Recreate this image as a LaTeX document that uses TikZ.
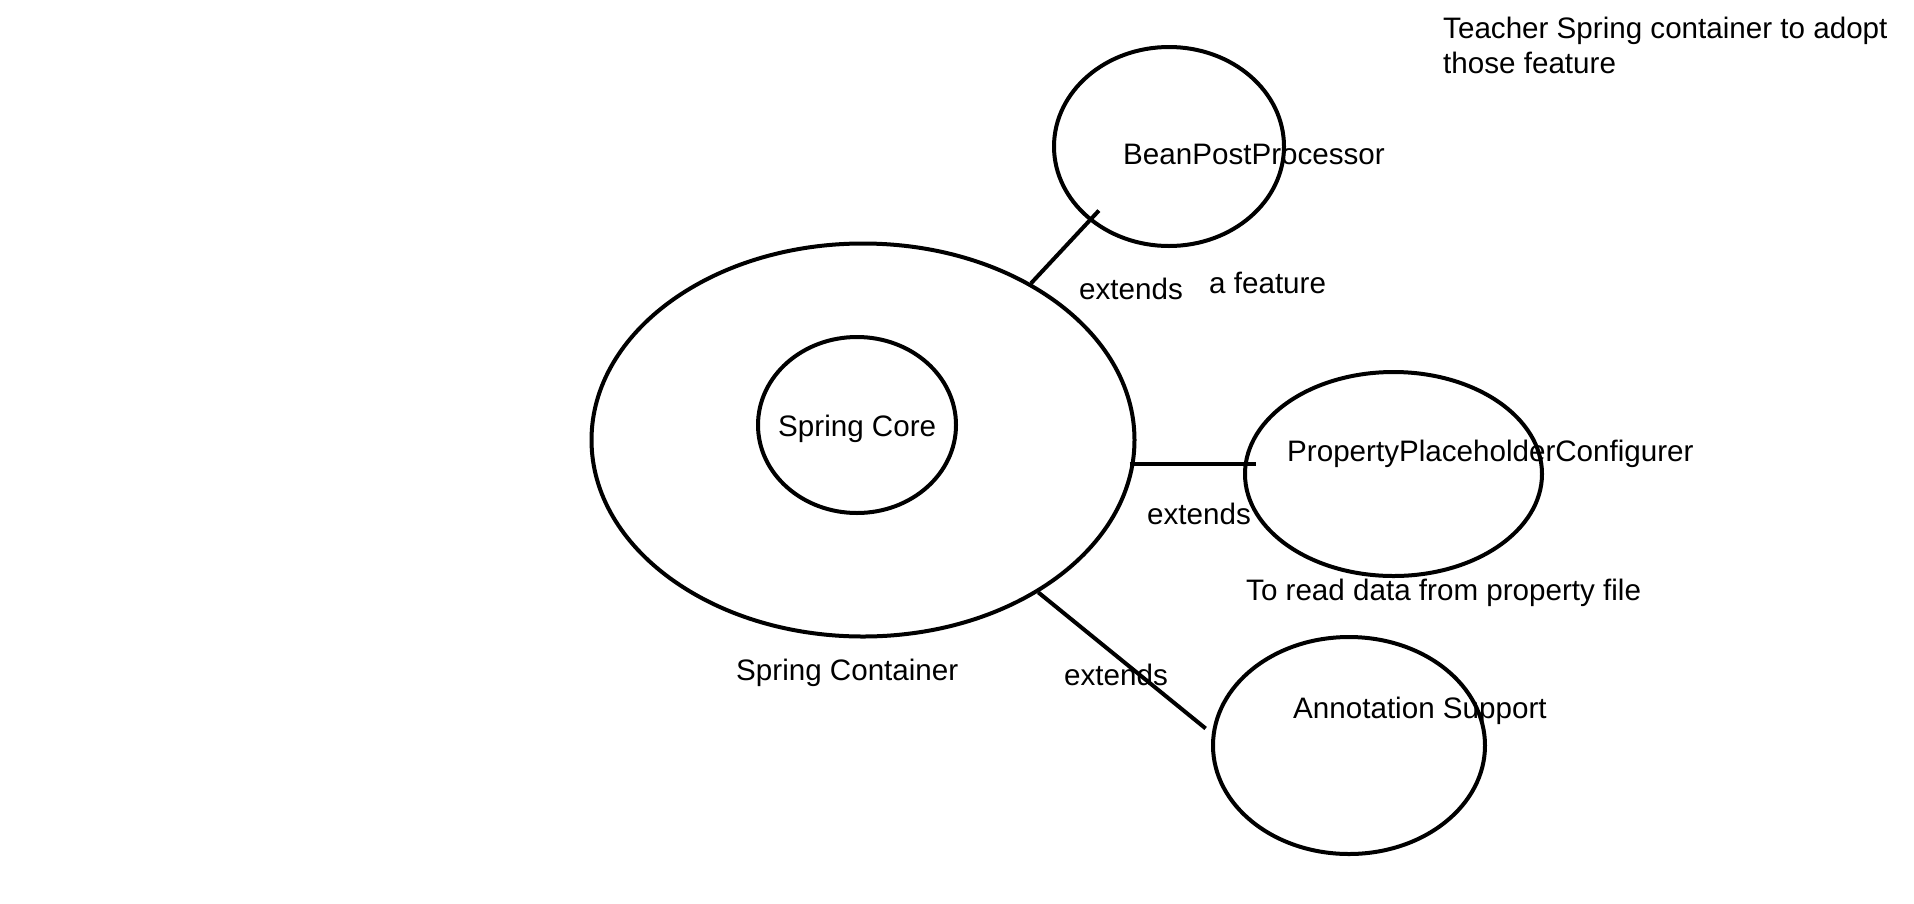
\documentclass[tikz,border=0pt]{standalone}
\usepackage{fontspec}
\setmainfont{Liberation Sans}
\usepackage{tikz}
\usetikzlibrary{shapes,positioning,calc}

\tikzset{
    bubble/.style={draw, ellipse, line width=4pt, inner sep=0pt},
    lbl/.style={anchor=base west, inner sep=0pt, font=\fontsize{29.6}{34.5}\selectfont},
    link/.style={line width=4pt}
}

\begin{document}
\begin{tikzpicture}[x=1pt, y=-1pt]
    \useasboundingbox (0,0) rectangle (1914,903);

    \node[bubble, minimum width=543pt, minimum height=393pt] (container) at (863, 440) {}; % outer
    \node[bubble, minimum width=198pt, minimum height=176pt] (core) at (857, 425) {}; % inner
    \node[bubble, minimum width=230pt, minimum height=199pt] (bpp) at (1169, 146.5) {};
    \node[bubble, minimum width=297pt, minimum height=204pt] (ppc) at (1393.5, 474) {};
    \node[bubble, minimum width=272pt, minimum height=217pt] (annot) at (1349, 745.5) {};

    \draw[link, shorten >=-14pt] (container.43.6) -- (bpp.223.6); % to BeanPostProcessor
    \draw[link, shorten <=-5pt, shorten >=-12.6pt] (container.-5.7) -- (ppc.177.3 |- container.-5.7); % to Configurer
    \draw[link, shorten >=8pt] (container.-41.7) -- (annot.175.8); % to Annotation

    \node[lbl] (coreText) at (778, 436.6) {Spring Core};
    \node[lbl] (containerText) at (736, 680) {Spring Container};
    \node[lbl] (bppText) at (1123, 164.5) {BeanPostProcessor};
    \node[lbl] (ppcText) at (1287, 461) {PropertyPlaceholderConfigurer};
    \node[lbl] (annotText) at (1293, 718) {Annotation Support};

    \node[lbl] (extA) at (1079, 299) {extends};
    \node[lbl] (extB) at (1147, 524) {extends};
    \node[lbl] (extC) at (1064, 685) {extends};

    \node[lbl] (feature) at (1209, 293) {a feature};
    \node[lbl] (readNote) at (1246, 600.5) {To read data from property file};
    \node[lbl] (teachA) at (1443, 38.6) {Teacher Spring container to adopt};
    \node[lbl] (teachB) at (1443, 73) {those feature};
\end{tikzpicture}
\end{document}
